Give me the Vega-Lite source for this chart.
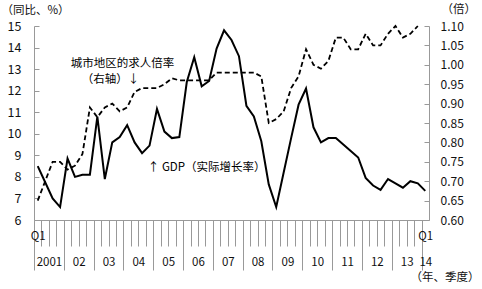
{
  "$schema": "https://vega.github.io/schema/vega-lite/v6.json",
  "width": 395,
  "height": 194,
  "autosize": {"type": "none"},
  "padding": {"left": 34, "top": 26, "right": 53, "bottom": 69},
  "background": "white",
  "config": {
    "view": {"stroke": null},
    "font": "Noto Sans CJK SC",
    "axis": {"grid": false, "domain": true, "domainColor": "#999999", "domainWidth": 1, "tickColor": "#999999", "tickWidth": 1, "labelColor": "#111111", "labelFont": "Noto Sans CJK SC", "titleFont": "Noto Sans CJK SC", "titleFontWeight": "normal", "titleColor": "#111111", "labelOverlap": false, "labelFlush": false, "labelBound": false}
  },
  "datasets": {
    "series": [
      {"t": 0, "gdp": 8.5, "ratio": 0.65},
      {"t": 1, "gdp": 7.75, "ratio": 0.70},
      {"t": 2, "gdp": 7.0, "ratio": 0.75},
      {"t": 3, "gdp": 6.6, "ratio": 0.75},
      {"t": 4, "gdp": 8.85, "ratio": 0.73},
      {"t": 5, "gdp": 8.0, "ratio": 0.74},
      {"t": 6, "gdp": 8.1, "ratio": 0.77},
      {"t": 7, "gdp": 8.1, "ratio": 0.89},
      {"t": 8, "gdp": 10.8, "ratio": 0.865},
      {"t": 9, "gdp": 7.9, "ratio": 0.89},
      {"t": 10, "gdp": 9.6, "ratio": 0.90},
      {"t": 11, "gdp": 9.85, "ratio": 0.88},
      {"t": 12, "gdp": 10.4, "ratio": 0.89},
      {"t": 13, "gdp": 9.6, "ratio": 0.93},
      {"t": 14, "gdp": 9.1, "ratio": 0.94},
      {"t": 15, "gdp": 9.45, "ratio": 0.94},
      {"t": 16, "gdp": 11.15, "ratio": 0.94},
      {"t": 17, "gdp": 10.1, "ratio": 0.95},
      {"t": 18, "gdp": 9.8, "ratio": 0.965},
      {"t": 19, "gdp": 9.85, "ratio": 0.96},
      {"t": 20, "gdp": 12.4, "ratio": 0.96},
      {"t": 21, "gdp": 13.55, "ratio": 0.96},
      {"t": 22, "gdp": 12.2, "ratio": 0.96},
      {"t": 23, "gdp": 12.45, "ratio": 0.96},
      {"t": 24, "gdp": 13.95, "ratio": 0.98},
      {"t": 25, "gdp": 14.8, "ratio": 0.98},
      {"t": 26, "gdp": 14.35, "ratio": 0.98},
      {"t": 27, "gdp": 13.6, "ratio": 0.98},
      {"t": 28, "gdp": 11.3, "ratio": 0.98},
      {"t": 29, "gdp": 10.8, "ratio": 0.98},
      {"t": 30, "gdp": 9.65, "ratio": 0.97},
      {"t": 31, "gdp": 7.65, "ratio": 0.85},
      {"t": 32, "gdp": 6.6, "ratio": 0.86},
      {"t": 33, "gdp": 8.2, "ratio": 0.88},
      {"t": 34, "gdp": 9.8, "ratio": 0.94},
      {"t": 35, "gdp": 11.35, "ratio": 0.97},
      {"t": 36, "gdp": 12.1, "ratio": 1.04},
      {"t": 37, "gdp": 10.3, "ratio": 1.00},
      {"t": 38, "gdp": 9.6, "ratio": 0.99},
      {"t": 39, "gdp": 9.8, "ratio": 1.01},
      {"t": 40, "gdp": 9.8, "ratio": 1.07},
      {"t": 41, "gdp": 9.5, "ratio": 1.07},
      {"t": 42, "gdp": 9.2, "ratio": 1.04},
      {"t": 43, "gdp": 8.9, "ratio": 1.04},
      {"t": 44, "gdp": 7.95, "ratio": 1.08},
      {"t": 45, "gdp": 7.6, "ratio": 1.05},
      {"t": 46, "gdp": 7.4, "ratio": 1.05},
      {"t": 47, "gdp": 7.9, "ratio": 1.08},
      {"t": 48, "gdp": 7.7, "ratio": 1.10},
      {"t": 49, "gdp": 7.5, "ratio": 1.07},
      {"t": 50, "gdp": 7.8, "ratio": 1.08},
      {"t": 51, "gdp": 7.7, "ratio": 1.10},
      {"t": 52, "gdp": 7.35, "ratio": null}
    ],
    "notes": [
      {"t": 4.43, "v": 13.24, "label": "城市地区的求人倍率"},
      {"t": 5.91, "v": 12.5, "label": "（右轴）↓"},
      {"t": 14.77, "v": 8.41, "label": "↑ GDP（实际增长率）"}
    ]
  },
  "resolve": {"scale": {"y": "independent"}, "axis": {"x": "independent", "y": "independent"}},
  "layer": [
    {
      "data": {"name": "series"},
      "mark": {"type": "line", "color": "#000000", "strokeWidth": 2},
      "encoding": {
        "x": {"field": "t", "type": "quantitative",
          "scale": {"domain": [-0.5, 52.5], "nice": false, "zero": false},
          "axis": {"orient": "bottom", "title": null, "labels": false, "domain": true, "ticks": true,
            "values": [-0.5, 0.5, 1.5, 2.5, 3.5, 4.5, 5.5, 6.5, 7.5, 8.5, 9.5, 10.5, 11.5, 12.5, 13.5, 14.5, 15.5, 16.5, 17.5, 18.5, 19.5, 20.5, 21.5, 22.5, 23.5, 24.5, 25.5, 26.5, 27.5, 28.5, 29.5, 30.5, 31.5, 32.5, 33.5, 34.5, 35.5, 36.5, 37.5, 38.5, 39.5, 40.5, 41.5, 42.5, 43.5, 44.5, 45.5, 46.5, 47.5, 48.5, 49.5, 50.5, 51.5],
            "tickSize": {"condition": {"test": "(datum.value + 0.5) % 4 === 0", "value": 50}, "value": 26}}},
        "y": {"field": "gdp", "type": "quantitative",
          "scale": {"domain": [6, 15], "nice": false, "zero": false},
          "axis": {"orient": "left", "values": [6, 7, 8, 9, 10, 11, 12, 13, 14, 15], "tickSize": -5, "labelPadding": 18, "labelFontSize": 12.5,
            "title": "（同比、%）", "titleAngle": 0, "titleAlign": "left", "titleBaseline": "middle", "titleX": -33, "titleY": -16, "titleFontSize": 11.5}}
      }
    },
    {
      "data": {"name": "series"},
      "mark": {"type": "line", "color": "#000000", "strokeWidth": 1.8, "strokeDash": [5, 3]},
      "encoding": {
        "x": {"field": "t", "type": "quantitative",
          "scale": {"domain": [-0.5, 52.5], "nice": false, "zero": false},
          "axis": {"orient": "bottom", "domain": false, "ticks": false, "values": [0, 52], "labelExpr": "'Q1'", "labelBaseline": "middle", "labelPadding": 16.5, "labelFontSize": 11.5, "title": null}},
        "y": {"field": "ratio", "type": "quantitative",
          "scale": {"domain": [0.6, 1.1], "nice": false, "zero": false},
          "axis": {"orient": "right", "values": [0.6, 0.65, 0.7, 0.75, 0.8, 0.85, 0.9, 0.95, 1.0, 1.05, 1.1], "format": ".2f", "tickSize": -5, "labelPadding": 16, "labelFontSize": 12,
            "title": "（倍）", "titleAngle": 0, "titleAlign": "left", "titleBaseline": "middle", "titleX": 12, "titleY": -17, "titleFontSize": 11.5}}
      }
    },
    {
      "data": {"name": "notes"},
      "mark": {"type": "text", "align": "left", "baseline": "middle", "fontSize": 11.5, "color": "#000000"},
      "encoding": {
        "x": {"field": "t", "type": "quantitative",
          "scale": {"domain": [-0.5, 52.5], "nice": false, "zero": false},
          "axis": {"orient": "bottom", "domain": false, "ticks": false,
            "values": [1.5, 5.5, 9.5, 13.5, 17.5, 21.5, 25.5, 29.5, 33.5, 37.5, 41.5, 45.5, 49.5, 52],
            "labelExpr": "datum.value < 2 ? '2001' : format(floor(datum.value / 4) + 1, '02')",
            "labelBaseline": "middle", "labelPadding": 42, "labelFontSize": 11.5,
            "title": "（年、季度）", "titleAlign": "right", "titleBaseline": "middle", "titleX": 445, "titleY": 57, "titleFontSize": 11.5}},
        "y": {"field": "v", "type": "quantitative", "scale": {"domain": [6, 15], "nice": false, "zero": false}, "axis": null},
        "text": {"field": "label"}
      }
    }
  ]
}
